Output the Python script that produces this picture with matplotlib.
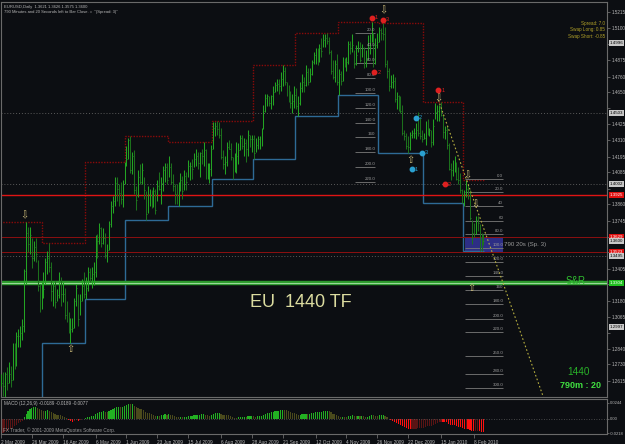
import numpy as np
import matplotlib.pyplot as plt

# 1. Daily EURUSD bars, 2 Mar 2009 .. 15 Feb 2010 (one week per line)
highs = [
    1.2660, 1.2680, 1.2680, 1.2710, 1.2750,
    1.2720, 1.2880, 1.2880, 1.2960, 1.2980,
    1.3000, 1.3050, 1.3400, 1.3738, 1.3700,
    1.3700, 1.3620, 1.3600, 1.3620, 1.3470,
    1.3300, 1.3320, 1.3380, 1.3480, 1.3530,
    1.3590, 1.3450, 1.3320, 1.3320, 1.3260,
    1.3380, 1.3350, 1.3310, 1.3270, 1.3180,
    1.3100, 1.3060, 1.3060, 1.3200, 1.3300,
    1.3230, 1.3230, 1.3330, 1.3380, 1.3350,
    1.3420, 1.3410, 1.3420, 1.3450, 1.3640,
    1.3650, 1.3730, 1.3700, 1.3690, 1.3660,
    1.3580, 1.3740, 1.3880, 1.3920, 1.4050,
    1.4050, 1.4000, 1.4020, 1.4030, 1.4160,
    1.4270, 1.4330, 1.4338, 1.4230, 1.4240,
    1.3990, 1.4100, 1.4140, 1.4150, 1.4050,
    1.3950, 1.3990, 1.3970, 1.3960, 1.3980,
    1.3970, 1.4030, 1.4090, 1.4050, 1.4130,
    1.4150, 1.4150, 1.4200, 1.4150, 1.4070,
    1.4000, 1.4000, 1.4020, 1.4080, 1.4060,
    1.4100, 1.4090, 1.4170, 1.4160, 1.4180,
    1.4220, 1.4250, 1.4230, 1.4230, 1.4250,
    1.4300, 1.4250, 1.4150, 1.4150, 1.4280,
    1.4440, 1.4440, 1.4450, 1.4440, 1.4400,
    1.4240, 1.4200, 1.4300, 1.4310, 1.4290,
    1.4190, 1.4220, 1.4300, 1.4290, 1.4350,
    1.4350, 1.4330, 1.4320, 1.4380, 1.4350,
    1.4350, 1.4350, 1.4330, 1.4340, 1.4340,
    1.4400, 1.4560, 1.4640, 1.4640, 1.4620,
    1.4630, 1.4690, 1.4720, 1.4740, 1.4740,
    1.4790, 1.4840, 1.4830, 1.4720, 1.4700,
    1.4660, 1.4640, 1.4690, 1.4680, 1.4620,
    1.4720, 1.4780, 1.4760, 1.4840, 1.4820,
    1.4820, 1.4880, 1.4930, 1.4960, 1.4960,
    1.4990, 1.5030, 1.5060, 1.5060, 1.5070,
    1.5040, 1.4950, 1.4880, 1.4880, 1.4920,
    1.4810, 1.4800, 1.4900, 1.4890, 1.4900,
    1.5010, 1.5010, 1.5060, 1.4950, 1.4980,
    1.5010, 1.5000, 1.4990, 1.4970, 1.4950,
    1.5050, 1.5060, 1.5144, 1.5070, 1.5030,
    1.5070, 1.5110, 1.5100, 1.5140, 1.5110,
    1.4880, 1.4820, 1.4770, 1.4780, 1.4760,
    1.4650, 1.4630, 1.4620, 1.4560, 1.4380,
    1.4360, 1.4340, 1.4370, 1.4380, 1.4400,
    1.4430, 1.4510, 1.4470, 1.4380, 1.4360,
    1.4450, 1.4460, 1.4400, 1.4380, 1.4460,
    1.4570, 1.4560, 1.4560, 1.4580, 1.4490,
    1.4410, 1.4410, 1.4290, 1.4150, 1.4170,
    1.4200, 1.4160, 1.4120, 1.4080, 1.3970,
    1.3960, 1.4030, 1.4000, 1.3960, 1.3750,
    1.3730, 1.3780, 1.3780, 1.3720, 1.3660,
    1.3650,
]
lows = [
    1.2580, 1.2510, 1.2457, 1.2550, 1.2600,
    1.2570, 1.2620, 1.2700, 1.2720, 1.2850,
    1.2850, 1.2900, 1.2960, 1.3300, 1.3520,
    1.3510, 1.3410, 1.3460, 1.3450, 1.3250,
    1.3100, 1.3120, 1.3200, 1.3300, 1.3370,
    1.3380, 1.3180, 1.3140, 1.3130, 1.3180,
    1.3200, 1.3140, 1.3170, 1.3050, 1.3030,
    1.2950, 1.2885, 1.2960, 1.2990, 1.3140,
    1.3000, 1.3080, 1.3180, 1.3200, 1.3190,
    1.3250, 1.3310, 1.3270, 1.3290, 1.3350,
    1.3480, 1.3580, 1.3560, 1.3580, 1.3480,
    1.3450, 1.3540, 1.3700, 1.3800, 1.3850,
    1.3880, 1.3850, 1.3860, 1.3840, 1.4000,
    1.4130, 1.4180, 1.4080, 1.4070, 1.3930,
    1.3820, 1.3910, 1.4000, 1.4000, 1.3900,
    1.3750, 1.3800, 1.3850, 1.3830, 1.3840,
    1.3790, 1.3880, 1.3960, 1.3860, 1.3950,
    1.4020, 1.4000, 1.4050, 1.4000, 1.3950,
    1.3860, 1.3860, 1.3850, 1.3950, 1.3900,
    1.3960, 1.3960, 1.4050, 1.4030, 1.4040,
    1.4120, 1.4130, 1.4110, 1.4050, 1.4140,
    1.4130, 1.4040, 1.4040, 1.4010, 1.4060,
    1.4250, 1.4340, 1.4350, 1.4330, 1.4180,
    1.4110, 1.4070, 1.4130, 1.4250, 1.4170,
    1.4040, 1.4090, 1.4080, 1.4140, 1.4240,
    1.4250, 1.4200, 1.4160, 1.4200, 1.4260,
    1.4230, 1.4180, 1.4230, 1.4250, 1.4250,
    1.4270, 1.4390, 1.4510, 1.4550, 1.4550,
    1.4530, 1.4560, 1.4650, 1.4660, 1.4640,
    1.4660, 1.4690, 1.4700, 1.4620, 1.4580,
    1.4540, 1.4500, 1.4540, 1.4530, 1.4480,
    1.4560, 1.4650, 1.4650, 1.4690, 1.4700,
    1.4720, 1.4770, 1.4850, 1.4850, 1.4840,
    1.4860, 1.4900, 1.4970, 1.4970, 1.4990,
    1.4920, 1.4780, 1.4740, 1.4720, 1.4700,
    1.4630, 1.4700, 1.4730, 1.4830, 1.4800,
    1.4850, 1.4920, 1.4930, 1.4820, 1.4840,
    1.4930, 1.4860, 1.4900, 1.4820, 1.4830,
    1.4880, 1.4920, 1.5000, 1.4830, 1.4850,
    1.4960, 1.5000, 1.5020, 1.5020, 1.4830,
    1.4750, 1.4660, 1.4680, 1.4680, 1.4580,
    1.4530, 1.4520, 1.4500, 1.4350, 1.4310,
    1.4250, 1.4220, 1.4240, 1.4330, 1.4330,
    1.4320, 1.4340, 1.4320, 1.4300, 1.4320,
    1.4280, 1.4350, 1.4340, 1.4260, 1.4280,
    1.4460, 1.4450, 1.4450, 1.4480, 1.4330,
    1.4320, 1.4250, 1.4100, 1.4030, 1.4060,
    1.4090, 1.4030, 1.4000, 1.3940, 1.3870,
    1.3850, 1.3910, 1.3900, 1.3750, 1.3580,
    1.3630, 1.3650, 1.3670, 1.3530, 1.3530,
    1.3575,
]
closes = [
    1.2600, 1.2580, 1.2660, 1.2600, 1.2660,
    1.2620, 1.2840, 1.2780, 1.2930, 1.2930,
    1.2950, 1.3000, 1.3390, 1.3660, 1.3580,
    1.3640, 1.3480, 1.3560, 1.3510, 1.3280,
    1.3200, 1.3240, 1.3260, 1.3450, 1.3480,
    1.3420, 1.3250, 1.3280, 1.3170, 1.3220,
    1.3320, 1.3230, 1.3230, 1.3080, 1.3040,
    1.2960, 1.2980, 1.2990, 1.3180, 1.3270,
    1.3050, 1.3180, 1.3280, 1.3230, 1.3270,
    1.3380, 1.3340, 1.3370, 1.3380, 1.3630,
    1.3600, 1.3690, 1.3590, 1.3620, 1.3500,
    1.3540, 1.3720, 1.3850, 1.3880, 1.4010,
    1.3970, 1.3940, 1.3900, 1.3990, 1.4150,
    1.4180, 1.4310, 1.4100, 1.4200, 1.3960,
    1.3890, 1.4050, 1.4020, 1.4100, 1.3960,
    1.3790, 1.3930, 1.3940, 1.3860, 1.3950,
    1.3820, 1.3990, 1.3970, 1.4010, 1.4100,
    1.4120, 1.4030, 1.4120, 1.4020, 1.3990,
    1.3930, 1.3890, 1.3920, 1.4030, 1.3950,
    1.4060, 1.4020, 1.4130, 1.4130, 1.4110,
    1.4180, 1.4200, 1.4150, 1.4220, 1.4200,
    1.4240, 1.4080, 1.4090, 1.4110, 1.4250,
    1.4400, 1.4410, 1.4390, 1.4350, 1.4190,
    1.4140, 1.4160, 1.4260, 1.4250, 1.4190,
    1.4060, 1.4120, 1.4200, 1.4240, 1.4330,
    1.4270, 1.4290, 1.4250, 1.4350, 1.4320,
    1.4320, 1.4220, 1.4280, 1.4320, 1.4320,
    1.4360, 1.4520, 1.4610, 1.4620, 1.4570,
    1.4620, 1.4650, 1.4700, 1.4710, 1.4690,
    1.4740, 1.4800, 1.4720, 1.4680, 1.4600,
    1.4570, 1.4590, 1.4630, 1.4550, 1.4570,
    1.4680, 1.4720, 1.4700, 1.4790, 1.4720,
    1.4780, 1.4860, 1.4910, 1.4920, 1.4900,
    1.4960, 1.4940, 1.5020, 1.5030, 1.5010,
    1.4930, 1.4800, 1.4760, 1.4850, 1.4720,
    1.4780, 1.4730, 1.4870, 1.4850, 1.4860,
    1.4990, 1.4960, 1.4980, 1.4850, 1.4910,
    1.4960, 1.4880, 1.4960, 1.4860, 1.4880,
    1.4970, 1.4990, 1.5130, 1.4980, 1.4980,
    1.5000, 1.5090, 1.5070, 1.5060, 1.4850,
    1.4800, 1.4690, 1.4720, 1.4730, 1.4600,
    1.4620, 1.4550, 1.4520, 1.4360, 1.4340,
    1.4270, 1.4260, 1.4350, 1.4360, 1.4360,
    1.4380, 1.4360, 1.4340, 1.4320, 1.4330,
    1.4420, 1.4370, 1.4380, 1.4300, 1.4410,
    1.4510, 1.4520, 1.4550, 1.4490, 1.4370,
    1.4380, 1.4280, 1.4110, 1.4100, 1.4150,
    1.4160, 1.4040, 1.4030, 1.3960, 1.3870,
    1.3930, 1.3970, 1.3920, 1.3760, 1.3660,
    1.3650, 1.3750, 1.3730, 1.3640, 1.3610,
    1.3600,
]

# monthly high / low channel (first bar of each month)
month_start = [0, 22, 44, 65, 87, 110, 131, 153, 175, 196, 219, 240]
month_high = [1.3738, 1.3590, 1.4160, 1.4338, 1.4300, 1.4450,
              1.4840, 1.5070, 1.5144, 1.5140, 1.4580, 1.4030]
month_low = [1.2457, 1.2885, 1.3190, 1.3750, 1.3850, 1.4040,
             1.4180, 1.4480, 1.4630, 1.4220, 1.3870, 1.3530]

# horizontal levels
level_red = 1.3925
level_red_dim = [1.3629, 1.3523]
level_grey = [1.4503, 1.4002, 1.3495]
level_sr = 1.3304

# level ladders (bar from, bar to, labels, prices)
ladder_a_bars = (183.5, 194)
ladder_a_labels = ['20.0', '40.0', '60.0', '80.0', '100.0', '120.0',
                   '140.0', '160', '180.0', '200.0', '220.0']
ladder_a_prices = [1.5067, 1.4961, 1.4855, 1.4750, 1.4644, 1.4538,
                   1.4432, 1.4334, 1.4228, 1.4122, 1.4017]
ladder_b_bars = (240.5, 260.2)
ladder_b_labels = ['0.0', '20.0', '40', '60', '80.0', '100.0', '120.0',
                   '140.0', '160', '180.0', '200.0', '220.0', '250.0',
                   '280.0', '300.0']
ladder_b_prices = [1.4038, 1.3946, 1.3847, 1.3742, 1.3650, 1.3551, 1.3453,
                   1.3354, 1.3255, 1.3156, 1.3051, 1.2959, 1.2790, 1.2663,
                   1.2564]

# projection line (bar, price)
proj_bars = [226.6, 281.0]
proj_prices = [1.4595, 1.2501]

# hollow arrows (bar, price, glyph)
arrow_bars = [12, 36, 198, 226.5, 212, 241.6, 245.7, 243.6]
arrow_prices = [1.3784, 1.2839, 1.5229, 1.4609, 1.4172, 1.4066, 1.3861, 1.3269]
arrow_kinds = ['\u21e9', '\u21e7', '\u21e9', '\u21e9', '\u21e7', '\u21e9', '\u21e9', '\u21e7']

# swing points (bar, price, number, colour)
swing_bars = [192, 198, 193.5, 226.6, 230.2, 215, 218, 213]
swing_prices = [1.5173, 1.5159, 1.4792, 1.4665, 1.4002, 1.4468, 1.4221, 1.4108]
swing_nums = ['1', '3', '2', '1', '2', '2', '3', '1']
swing_cols = ['#e02020'] * 5 + ['#2aa0d0'] * 3

# right scales
price_ticks = [1.5215, 1.5100, 1.4990, 1.4875, 1.4760, 1.4650, 1.4535, 1.4425,
               1.4310, 1.4195, 1.4085, 1.3970, 1.3860, 1.3745, 1.3630, 1.3520,
               1.3405, 1.3295, 1.3180, 1.3065, 1.2955, 1.2840, 1.2730, 1.2615]
macd_ticks = [0.0244, 0.0, -0.0218]
macd_tick_labels = ['0.0244', '0.00', '-0.0218']

date_pos = [0, 16, 32, 49, 65, 81, 97, 114, 130, 146, 163, 179, 195, 211, 228, 245]
date_labels = ['2 Mar 2009', '26 Mar 2009', '16 Apr 2009', '6 May 2009',
               '1 Jun 2009', '23 Jun 2009', '15 Jul 2009', '6 Aug 2009',
               '28 Aug 2009', '21 Sep 2009', '12 Oct 2009', '4 Nov 2009',
               '26 Nov 2009', '22 Dec 2009', '15 Jan 2010', '8 Feb 2010']

# price boxes on the scale (price, face, text colour)
box_prices = [1.4996, 1.4503, 1.4002, 1.3925, 1.3629, 1.3600, 1.3523, 1.3495, 1.3304, 1.2997]
box_faces = ['#c8c8c8', '#c8c8c8', '#c8c8c8', '#e01010', '#e01010', '#c8c8c8',
             '#e01010', '#c8c8c8', '#20c020', '#c8c8c8']
box_text = ['#000000', '#000000', '#000000', '#ffffff', '#ffffff', '#000000',
            '#ffffff', '#000000', '#ffffff', '#000000']

# MACD seeds from the bars before the window
ema12_seed = 1.2700
ema26_seed = 1.2920

BG = '#0c0e12'
FG = '#b8b8b8'
GRID = '#6a6a6a'
plt.rcParams['font.family'] = ['Liberation Sans', 'DejaVu Sans']
SYM = ['DejaVu Sans']

h = np.array(highs)
l = np.array(lows)
c = np.array(closes)
x = np.arange(len(c))
prev = np.r_[c[0], c[:-1]]

fig = plt.figure(figsize=(6.25, 4.44), dpi=100, facecolor=BG)
ax = fig.add_axes([1 / 625, 47 / 444, 606 / 625, 395 / 444], facecolor=BG)
mx = fig.add_axes([1 / 625, 10 / 444, 606 / 625, 35 / 444], facecolor=BG)

# 2. price bars
up = c >= prev
ax.vlines(x[up], l[up], h[up], color='#23a423', lw=0.75, zorder=3)
ax.vlines(x[~up], l[~up], h[~up], color='#1c701c', lw=0.75, zorder=3)
ax.hlines(c, x, x + 0.45, color='#2a8a2a', lw=0.6, zorder=3)

# monthly channel
edges = np.r_[np.array(month_start) - 0.5, len(c) - 0.5]
ax.stairs(month_high, edges, baseline=None, color='#8a0a0a', lw=1.0, ls=(0, (1, 1)), zorder=2)
ax.stairs(month_low, edges, baseline=None, color='#2e6a96', lw=1.0, zorder=2)

# levels
ax.axhline(level_red, color='#e01414', lw=1.0, zorder=2)
for p in level_red_dim:
    ax.axhline(p, color='#8c1010', lw=0.7, zorder=2)
for p in level_grey:
    ax.axhline(p, color='#5a5a5a', lw=0.7, ls=(0, (1, 2)), zorder=1)
ax.axhline(level_sr, color='#2c9a2c', lw=3.2, zorder=2)
ax.axhline(level_sr, color='#9ad89a', lw=0.8, zorder=2)

# purple box between the dim red levels
ax.fill_between([ladder_b_bars[0], ladder_b_bars[1]], level_red_dim[1], level_red_dim[0],
                color='#34349a', alpha=0.85, lw=0, zorder=1)
ax.text(ladder_b_bars[1] + 0.5, (level_red_dim[0] + level_red_dim[1]) / 2,
        '790 20s (Sp. 3)', color='#9a9a9a', fontsize=4.4, va='center', ha='left', zorder=5)

# ladders
for (b0, b1), labs, prices in [(ladder_a_bars, ladder_a_labels, ladder_a_prices),
                               (ladder_b_bars, ladder_b_labels, ladder_b_prices)]:
    ax.hlines(prices, b0, b1, color='#7a7a7a', lw=0.6, zorder=2)
    for s, p in zip(labs, prices):
        ax.text(b1, p + 0.0006, s, color='#9a9a9a', fontsize=3.2,
                ha='right', va='bottom', zorder=4)

# projection
ax.plot(proj_bars, proj_prices, color='#b8b040', lw=0.8, ls=(0, (1.5, 2)), zorder=4)

# arrows and swing points
for b, p, k in zip(arrow_bars, arrow_prices, arrow_kinds):
    ax.text(b, p, k, color='#c8b878', fontsize=7, family=SYM, ha='center', va='center', zorder=6)
for b, p, n, col in zip(swing_bars, swing_prices, swing_nums, swing_cols):
    ax.plot(b, p, 'o', ms=3.2, color=col, zorder=6)
    ax.text(b + 1.5, p, n, color=col, fontsize=4, va='center', zorder=6)

# big labels
ax.text(0.495, 0.24, 'EU  1440 TF', transform=ax.transAxes, color='#dcdca0',
        fontsize=13, ha='center', va='center')
ax.text(0.965, 0.287, 'S&R', transform=ax.transAxes, color='#30c030', fontsize=7, ha='right')
ax.text(0.972, 0.055, '1440', transform=ax.transAxes, color='#28b028', fontsize=7.2, ha='right')
ax.text(0.99, 0.022, '790m : 20', transform=ax.transAxes, color='#40e040', fontsize=6.5,
        ha='right', fontweight='bold')

# header texts
fig.text(4 / 625, 1 - 7 / 444, 'EURUSD,Daily  1.3621 1.3626 1.3575 1.3600',
         color=FG, fontsize=3.0, va='center')
fig.text(4 / 625, 1 - 12 / 444, '790 Minutes and 20 Seconds left to Bar Close. =  "(Spread: 3)"',
         color=FG, fontsize=3.0, va='center')
for i, s in enumerate(['Spread: 7.0', 'Swap Long: 0.85', 'Swap Short: -0.85']):
    fig.text(605 / 625, 1 - (24 + 6 * i) / 444, s, color='#b0a028', fontsize=3.3,
             ha='right', va='center')

# price axis; tick labels hidden under a price box are left out
ax.set_xlim(0, 314)
ax.set_ylim(1.25008, 1.52855)
ax.set_xticks([])
ax.yaxis.tick_right()
ax.set_yticks(price_ticks)
ax.set_yticklabels(['' if min(abs(t - b) for b in box_prices) < 0.0045 else '%.4f' % t
                    for t in price_ticks])
ax.tick_params(axis='y', colors=GRID, labelcolor=FG, labelsize=3.3, length=2, width=0.6, pad=1.2)
for sp in ax.spines.values():
    sp.set_color(GRID)
    sp.set_linewidth(0.8)

for p, fc, tc in zip(box_prices, box_faces, box_text):
    ax.text(1.0045, p, '%.4f' % p, transform=ax.get_yaxis_transform(), color=tc,
            fontsize=3.2, va='center', ha='left', clip_on=False, zorder=7,
            bbox=dict(boxstyle='square,pad=0.2', fc=fc, ec='none'))

# 3. MACD (12,26,9)
def ema(v, n, seed):
    a = 2.0 / (n + 1)
    out = np.empty_like(v)
    cur = seed
    for i, val in enumerate(v):
        cur = cur + a * (val - cur)
        out[i] = cur
    return out

macd = ema(c, 12, ema12_seed) - ema(c, 26, ema26_seed)
mprev = np.r_[macd[0], macd[:-1]]
cols = np.where(macd >= 0,
                np.where(macd >= mprev, '#22b022', '#4a4a1c'),
                np.where(macd <= mprev, '#ff1010', '#5a1414'))
mx.bar(x, macd, width=0.6, color=cols, lw=0)
mx.axhline(0, color='#5a5a5a', lw=0.6, ls=(0, (1, 2)))
mx.set_xlim(0, 314)
mx.set_ylim(-0.0226, 0.0298)
mx.yaxis.tick_right()
mx.set_yticks(macd_ticks)
mx.set_yticklabels(macd_tick_labels)
mx.set_xticks(date_pos)
mx.set_xticklabels(date_labels, ha='left')
mx.tick_params(axis='y', colors=GRID, labelcolor=FG, labelsize=3.0, length=1.5, width=0.6, pad=0.8)
mx.tick_params(axis='x', colors=GRID, labelcolor=FG, labelsize=3.4, length=3, width=0.6, pad=1)
for sp in mx.spines.values():
    sp.set_color(GRID)
    sp.set_linewidth(0.8)
mx.text(0.005, 0.86, 'MACD (12,26,9) -0.0189 -0.0189 -0.0077', transform=mx.transAxes,
        color=FG, fontsize=3.3, va='center')
mx.text(0.004, 0.1, 'FX Trader, \u00a9 2001-2009 MetaQuotes Software Corp.', transform=mx.transAxes,
        color='#9a9a9a', fontsize=3.4, va='center')

fig.savefig('out.png', dpi=100, facecolor=BG)
